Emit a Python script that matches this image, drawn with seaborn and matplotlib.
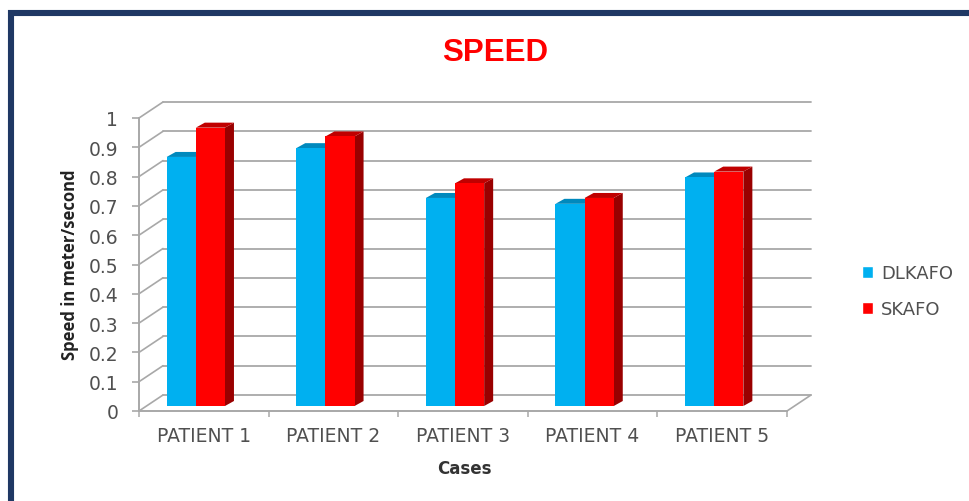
import matplotlib
matplotlib.use("Agg")
import matplotlib.pyplot as plt
from matplotlib.lines import Line2D
from matplotlib.patches import Patch, Polygon
from matplotlib.transforms import IdentityTransform, offset_copy
import pandas as pd
import seaborn as sns

# data
cases = ["PATIENT 1", "PATIENT 2", "PATIENT 3", "PATIENT 4", "PATIENT 5"]
dlkafo = [0.85, 0.88, 0.71, 0.69, 0.78]
skafo = [0.95, 0.92, 0.76, 0.71, 0.80]
y_ticks = [0, 0.1, 0.2, 0.3, 0.4, 0.5, 0.6, 0.7, 0.8, 0.9, 1]
y_tick_labels = ["0", "0.1", "0.2", "0.3", "0.4", "0.5", "0.6", "0.7", "0.8", "0.9", "1"]

# colours
BLUE, BLUE_TOP = "#00b0f0", "#0089bd"
RED, RED_TOP, RED_SIDE = "#ff0000", "#c00000", "#990000"
GRID_COL = "#a8a8a8"
TEXT_COL = "#505050"
FRAME_COL = "#1f3864"

W, H, DPI = 970, 502, 100
WALL_DX, WALL_DY = 24, 16   # depth of the 3D box, pixels
BAR_DX, BAR_DY = 9, 5       # depth of one bar, pixels

df = pd.DataFrame({
    "case": cases * 2,
    "speed": dlkafo + skafo,
    "brace": ["DLKAFO"] * len(cases) + ["SKAFO"] * len(cases),
})

sns.set_theme(style="white")
plt.rcParams["font.family"] = "DejaVu Sans"

fig = plt.figure(figsize=(W / DPI, H / DPI), dpi=DPI, facecolor="white")


def axes_px(left, right, top, bottom):
    return fig.add_axes([left / W, (H - bottom) / H, (right - left) / W, (bottom - top) / H])


# front plane of the box: ticks, labels, walls
ax = axes_px(139, 787, 119, 412)
ax.set_xlim(-0.5, 4.5)
ax.set_ylim(0, 1)
ax.patch.set_alpha(0)
ax.spines[["top", "right"]].set_visible(False)
ax.spines[["left", "bottom"]].set_color(GRID_COL)
ax.spines[["left", "bottom"]].set_linewidth(1.4)

ax.set_yticks(y_ticks)
ax.set_yticklabels(y_tick_labels, fontsize=13.5, color=TEXT_COL)
ax.tick_params(axis="y", left=True, length=5, width=1.2, color=GRID_COL, pad=10)
ax.set_xticks([i - 0.5 for i in range(len(cases) + 1)])
ax.set_xticklabels([])
ax.set_xticks(range(len(cases)), labels=cases, minor=True)
ax.tick_params(axis="x", which="major", bottom=True, length=4, width=1.1, color=GRID_COL)
ax.tick_params(axis="x", which="minor", bottom=False, length=0, pad=11,
               labelsize=13.5, labelcolor=TEXT_COL)

ax.set_xlabel("Cases", fontsize=12, fontweight="bold", color="#333333", labelpad=10, x=0.502)
fig.text(70 / W, 1 - 265 / H, "Speed in meter/second", rotation=90, ha="center", va="center",
         family="Open Sans", fontsize=12, fontweight="bold", color="#222222")

# back wall and the diagonals that join it to the front plane
back = offset_copy(ax.transData, fig=fig, x=WALL_DX, y=WALL_DY, units="dots")
for t in y_ticks:
    ax.plot([-0.5, 4.5], [t, t], transform=back, color=GRID_COL, lw=1.3,
            clip_on=False, zorder=1)
    x0, y0 = ax.transData.transform((-0.5, t))
    fig.add_artist(Line2D([x0, x0 + WALL_DX], [y0, y0 + WALL_DY], transform=IdentityTransform(),
                          color=GRID_COL, lw=1.2))
x0, y0 = ax.transData.transform((4.5, 0))
fig.add_artist(Line2D([x0, x0 + WALL_DX], [y0, y0 + WALL_DY], transform=IdentityTransform(),
                      color=GRID_COL, lw=1.2))

# bars live in their own plane, set a little inside the box
bar_ax = axes_px(131, 779, 114, 407)
sns.barplot(data=df, x="case", y="speed", hue="brace", order=cases,
            palette=[BLUE, RED], width=0.45, gap=0, saturation=1,
            legend=False, ax=bar_ax)
bar_ax.set_xlim(-0.5, 4.5)
bar_ax.set_ylim(0, 1)
bar_ax.axis("off")

n = len(cases)
for i, bar in enumerate(list(bar_ax.patches)):
    is_blue = i < n
    x, w, h = bar.get_x(), bar.get_width(), bar.get_height()
    bar.set_edgecolor("none")
    bar.set_zorder(3 if is_blue else 5)
    (lx, by), (rx, ty) = bar_ax.transData.transform([(x, 0), (x + w, h)])
    top = [(lx, ty), (rx, ty), (rx + BAR_DX, ty + BAR_DY), (lx + BAR_DX, ty + BAR_DY)]
    side = [(rx, by), (rx + BAR_DX, by + BAR_DY), (rx + BAR_DX, ty + BAR_DY), (rx, ty)]
    bar_ax.add_patch(Polygon(side, transform=IdentityTransform(), clip_on=False, lw=0,
                             facecolor=BLUE_TOP if is_blue else RED_SIDE,
                             zorder=2 if is_blue else 4))
    bar_ax.add_patch(Polygon(top, transform=IdentityTransform(), clip_on=False, lw=0,
                             facecolor=BLUE_TOP if is_blue else RED_TOP,
                             zorder=2 if is_blue else 4))

handles = [Patch(facecolor=BLUE, label="DLKAFO"), Patch(facecolor=RED, label="SKAFO")]
fig.legend(handles=handles, loc="upper left", bbox_to_anchor=(846 / W, 1 - 249 / H),
           frameon=False, fontsize=13, labelcolor=TEXT_COL, handlelength=0.6,
           handleheight=0.7, handletextpad=0.45, labelspacing=1.0)

fig.text(495 / W, 1 - 53 / H, "SPEED", color="#ff0000", fontsize=22.5, fontweight="bold",
         family="Liberation Sans", ha="center", va="center")

# dark frame, open on the right and at the bottom of the picture
fig.add_artist(Line2D([10.5, 10.5, W], [0, H - 13.5, H - 13.5], transform=IdentityTransform(),
                      color=FRAME_COL, lw=4.4, solid_joinstyle="miter"))

fig.savefig("out.png", dpi=DPI, facecolor="white")
